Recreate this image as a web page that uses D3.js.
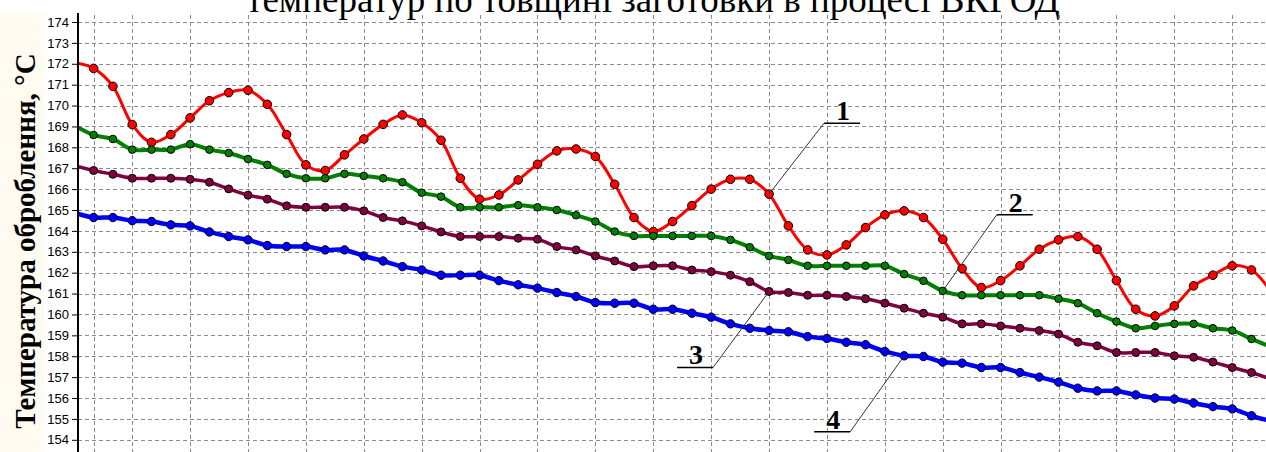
<!DOCTYPE html>
<html>
<head>
<meta charset="utf-8">
<script src="https://cdn.jsdelivr.net/npm/d3@7"></script>
<style>
  html, body { margin: 0; padding: 0; background: #fff; }
  svg { display: block; }
</style>
</head>
<body>
<svg id="chart" width="1266" height="452"></svg>
<script>
// Temperature distribution through the billet thickness, four layers (1–4)
const pointIndex = d3.range(63);

const curve1 = [172.05,171.78,170.92,169.09,168.24,168.61,169.41,170.23,170.62,170.73,
  170.06,168.61,167.16,166.89,167.64,168.40,169.10,169.55,169.18,168.34,
  166.52,165.52,165.72,166.44,167.19,167.83,167.92,167.56,166.23,164.64,
  163.97,164.45,165.21,166.00,166.47,166.47,165.76,164.24,163.09,162.85,
  163.33,164.16,164.77,164.96,164.64,163.60,162.20,161.29,161.62,162.33,
  163.12,163.57,163.73,163.12,161.62,160.25,159.93,160.41,161.37,161.88,
  162.33,162.13,161.10];

const curve2 = [169.05,168.59,168.40,167.89,167.89,167.89,168.15,167.89,167.73,167.44,
  167.16,166.73,166.52,166.52,166.73,166.63,166.52,166.33,165.83,165.64,
  165.13,165.13,165.13,165.23,165.13,165.00,164.75,164.45,163.97,163.76,
  163.76,163.76,163.76,163.76,163.57,163.22,162.80,162.61,162.33,162.33,
  162.33,162.33,162.33,161.93,161.61,161.13,160.92,160.92,160.92,160.92,
  160.92,160.75,160.54,160.06,159.66,159.34,159.45,159.55,159.55,159.34,
  159.23,158.83,158.45];

const curve3 = [167.13,166.89,166.71,166.52,166.52,166.52,166.47,166.33,166.01,165.71,
  165.52,165.20,165.13,165.13,165.13,164.96,164.64,164.48,164.24,163.95,
  163.73,163.73,163.73,163.65,163.60,163.25,163.09,162.80,162.56,162.29,
  162.33,162.33,162.13,162.05,161.88,161.57,161.10,161.05,160.92,160.92,
  160.86,160.75,160.54,160.30,160.06,159.87,159.55,159.55,159.45,159.34,
  159.23,159.06,158.67,158.50,158.18,158.18,158.18,158.02,157.95,157.72,
  157.46,157.22,156.90];

const curve4 = [164.87,164.64,164.64,164.49,164.45,164.29,164.24,163.95,163.73,163.57,
  163.30,163.25,163.25,163.09,163.09,162.80,162.56,162.29,162.13,161.88,
  161.88,161.88,161.62,161.42,161.26,161.05,160.86,160.57,160.54,160.54,
  160.25,160.25,160.06,159.87,159.55,159.34,159.23,159.17,158.94,158.85,
  158.67,158.55,158.23,158.02,157.99,157.72,157.67,157.46,157.46,157.22,
  157.00,156.76,156.47,156.34,156.34,156.15,156.00,155.95,155.76,155.59,
  155.48,155.15,154.90];

const yTickValues = d3.range(154, 175, 1);
const xGridValues = [1].concat(d3.range(3, 63, 3));

const seriesNames = ["1", "2", "3", "4"];
const seriesColors = ["#ff0000", "#008000", "#800040", "#0000ff"];
const seriesWidths = [3, 4, 3.5, 4.5];
const markerRadii = [4.3, 3.8, 4, 4.2];

// callout: series number, point it points at
const calloutSeries = [0, 1, 2, 3];
const calloutPoint = [36, 45, 36, 43];

const titleText = "температур по товщині заготовки в процесі ВКГОД";
const yTitleText = "Температура оброблення, °C";

const W = 1266, H = 452;
const plot = { left: 78, right: 1266, top: 13, bottom: 452 };

const svg = d3.select("#chart");
svg.append("rect").attr("width", W).attr("height", H).attr("fill", "#ffffff");

// cream panel behind the vertical caption
svg.append("rect").attr("x", 0).attr("y", 13).attr("width", 44).attr("height", H - 13)
  .attr("fill", "#fffbf0");

const x = d3.scaleLinear().domain([0.19, 61.75]).range([plot.left, plot.right]);
const y = d3.scaleLinear().domain([154, 174]).range([439.8, 22]);

// grid
const grid = svg.append("g").attr("stroke", "#8a8a8a").attr("stroke-width", 1)
  .attr("stroke-dasharray", "4,3").attr("shape-rendering", "crispEdges");
grid.selectAll("line.h").data(yTickValues).join("line").attr("class", "h")
  .attr("x1", plot.left).attr("x2", plot.right)
  .attr("y1", d => Math.round(y(d)) + 0.5).attr("y2", d => Math.round(y(d)) + 0.5);
grid.selectAll("line.v").data(xGridValues).join("line").attr("class", "v")
  .attr("y1", 15).attr("y2", plot.bottom)
  .attr("x1", d => Math.round(x(d)) + 0.5).attr("x2", d => Math.round(x(d)) + 0.5);

// y axis
const yAxis = d3.axisLeft(y).tickValues(yTickValues).tickSize(6).tickPadding(3)
  .tickFormat(d3.format("d"));
const gy = svg.append("g").attr("transform", `translate(${plot.left},0)`).call(yAxis);
gy.select(".domain").remove();
gy.selectAll(".tick line").attr("stroke", "#000");
gy.selectAll(".tick text").attr("font-family", "Liberation Sans, Arial, sans-serif")
  .attr("font-size", 13).attr("fill", "#000");
svg.append("line").attr("x1", plot.left).attr("x2", plot.left)
  .attr("y1", plot.top).attr("y2", plot.bottom)
  .attr("stroke", "#000").attr("stroke-width", 2);

// data
svg.append("clipPath").attr("id", "plotClip").append("rect")
  .attr("x", plot.left + 1).attr("y", plot.top).attr("width", plot.right - plot.left)
  .attr("height", plot.bottom - plot.top);

const allSeries = [curve1, curve2, curve3, curve4];
const line = d3.line().x((d, i) => x(pointIndex[i])).y(d => y(d)).curve(d3.curveCatmullRom.alpha(0.5));

const dataG = svg.append("g").attr("clip-path", "url(#plotClip)");
allSeries.forEach((vals, s) => {
  const g = dataG.append("g");
  g.append("path").datum(vals).attr("d", line).attr("fill", "none")
    .attr("stroke", seriesColors[s]).attr("stroke-width", seriesWidths[s])
    .attr("stroke-linejoin", "round");
  g.selectAll("circle").data(vals).join("circle")
    .attr("cx", (d, i) => x(pointIndex[i])).attr("cy", d => y(d))
    .attr("r", markerRadii[s]).attr("fill", seriesColors[s])
    .attr("stroke", "#000").attr("stroke-width", 1);
});

// callouts: leader + underline + number
const calloutOffset = [[55, -71], [54, -76], [-56, 76], [-54, 76]];
const underlineLen = 36;
calloutSeries.forEach((s, k) => {
  const i = calloutPoint[k];
  const px = x(pointIndex[i]), py = y(allSeries[s][i]);
  const [dx, dy] = calloutOffset[k];
  const ex = px + dx, ey = py + dy;
  const ux2 = dx > 0 ? ex + underlineLen : ex - underlineLen;
  svg.append("line").attr("x1", px).attr("y1", py).attr("x2", ex).attr("y2", ey)
    .attr("stroke", "#333").attr("stroke-width", 1);
  svg.append("line").attr("x1", ex).attr("y1", ey).attr("x2", ux2).attr("y2", ey)
    .attr("stroke", "#000").attr("stroke-width", 1.5);
  svg.append("text").attr("x", (ex + ux2) / 2 + 1).attr("y", ey - 3)
    .attr("text-anchor", "middle")
    .attr("font-family", "Liberation Serif, Times New Roman, serif")
    .attr("font-weight", "bold").attr("font-size", 28).attr("fill", "#000")
    .text(seriesNames[s]);
});

// headline (lower line of the caption)
svg.append("text").attr("x", 653).attr("y", 12).attr("text-anchor", "middle")
  .attr("font-family", "Liberation Serif, Times New Roman, serif")
  .attr("font-size", 37).attr("fill", "#000").text(titleText);

// vertical caption
svg.append("text").attr("transform", "translate(35,241) rotate(-90)")
  .attr("text-anchor", "middle")
  .attr("font-family", "Liberation Serif, Times New Roman, serif")
  .attr("font-weight", "bold").attr("font-size", 29).attr("fill", "#000")
  .text(yTitleText);
</script>
</body>
</html>
